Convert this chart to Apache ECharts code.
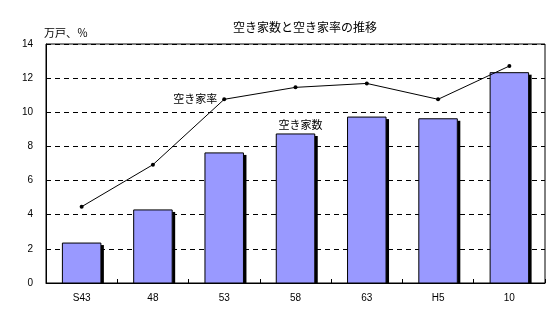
<!DOCTYPE html>
<html>
<head>
<meta charset="utf-8">
<script src="https://cdn.jsdelivr.net/npm/echarts@6/dist/echarts.min.js"></script>
<style>
  html, body { margin: 0; padding: 0; background: #fff; }
  #chart { width: 559px; height: 322px; }
</style>
</head>
<body>
<div id="chart"></div>
<script>
  const categories = ['S43', '48', '53', '58', '63', 'H5', '10'];
  const vacantHouses = [2.34, 4.28, 7.62, 8.73, 9.72, 9.62, 12.32];
  const vacancyRate = [4.47, 6.93, 10.76, 11.46, 11.69, 10.76, 12.71];
  const yTicks = { min: 0, max: 14, interval: 2 };

  const jp = '"Noto Sans CJK JP", sans-serif';
  const num = '"Liberation Sans", Arial, sans-serif';

  const chart = echarts.init(document.getElementById('chart'));

  // bar with a hard black drop shadow on the right, like the old Excel chart
  const renderBar = (params, api) => {
    const top = api.coord([api.value(0), api.value(1)]);
    const base = api.coord([api.value(0), 0]);
    const w = api.size([1, 0])[0] * 0.54;
    const x = top[0] - w / 2;
    const h = base[1] - top[1];
    const children = [
      { type: 'rect', shape: { x: x + w, y: top[1] + 2, width: 3, height: h - 2 }, style: { fill: '#000' } },
      { type: 'rect', shape: { x: x, y: top[1], width: w, height: h }, style: { fill: '#9999ff', stroke: '#000', lineWidth: 1 } }
    ];
    if (params.dataIndex === 3) {
      children.push({
        type: 'text',
        style: {
          text: params.seriesName, x: top[0] + 5, y: top[1] - 4,
          align: 'center', verticalAlign: 'bottom',
          font: '11px ' + jp, fill: '#000'
        }
      });
    }
    return { type: 'group', children: children };
  };

  chart.setOption({
    animation: false,
    title: {
      text: '空き家数と空き家率の推移',
      left: 300,
      top: 16,
      textAlign: 'center',
      textStyle: { fontFamily: jp, fontSize: 12, fontWeight: 'normal', color: '#000' }
    },
    grid: { left: 46, right: 14, top: 44, bottom: 39, show: true, borderColor: '#000', borderWidth: 1 },
    xAxis: {
      type: 'category',
      data: categories,
      axisLine: { lineStyle: { color: '#000', width: 1 } },
      axisTick: { show: true, inside: true, length: 4, lineStyle: { color: '#000' } },
      axisLabel: { fontFamily: num, fontSize: 10, color: '#000', margin: 10 }
    },
    yAxis: {
      type: 'value',
      min: yTicks.min,
      max: yTicks.max,
      interval: yTicks.interval,
      name: '万戸、％',
      nameLocation: 'end',
      nameGap: 6,
      nameTextStyle: { fontFamily: jp, fontSize: 11, color: '#000', align: 'left', padding: [0, 0, 0, -2] },
      axisLine: { show: true, lineStyle: { color: '#000' } },
      axisTick: { show: false },
      axisLabel: { fontFamily: num, fontSize: 10, color: '#000', margin: 13 },
      splitLine: { lineStyle: { color: '#000', type: [5, 4], width: 1 } }
    },
    series: [
      {
        name: '空き家数',
        type: 'custom',
        renderItem: renderBar,
        data: vacantHouses.map((v, i) => [i, v]),
        encode: { x: 0, y: 1 },
        z: 3
      },
      {
        name: '空き家率',
        type: 'line',
        data: vacancyRate.map((v, i) => i === 2
          ? { value: v, label: { show: true, position: 'left', distance: 5, formatter: '空き家率', fontFamily: jp, fontSize: 11, color: '#000' } }
          : v),
        symbol: 'circle',
        symbolSize: 4,
        itemStyle: { color: '#000' },
        lineStyle: { color: '#000', width: 1 },
        z: 5
      }
    ]
  });
</script>
</body>
</html>
